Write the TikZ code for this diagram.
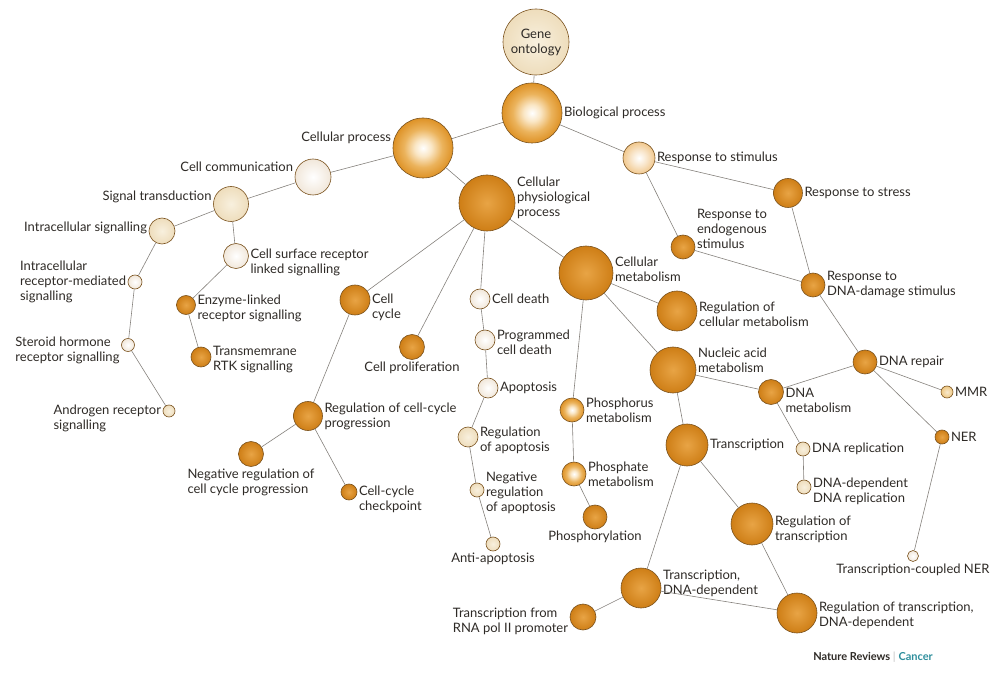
\documentclass[tikz,border=0pt]{standalone}
\usepackage{fontspec}
\setmainfont{Lato}
\definecolor{rim}{HTML}{7A521E}
\definecolor{txt}{HTML}{2E2A26}
\definecolor{wire}{HTML}{85817C}
\definecolor{orgin}{HTML}{E8A445}
\definecolor{orgout}{HTML}{CE7E16}
\definecolor{hotmid}{HTML}{F4C980}
\definecolor{hotout}{HTML}{DE9226}
\definecolor{palein}{HTML}{FFFFFF}
\definecolor{paleout}{HTML}{F1E7DA}
\definecolor{beigein}{HTML}{F8F0DE}
\definecolor{beigeout}{HTML}{EEDDBC}
\definecolor{stimout}{HTML}{F1C88E}
\definecolor{lorg}{HTML}{EEC883}
\definecolor{cancer}{HTML}{2E8E9C}
\pgfdeclareradialshading{hotball}{\pgfpoint{0bp}{0bp}}{color(0bp)=(white); color(7bp)=(hotmid!45!white); color(16bp)=(hotmid!60!hotout); color(25bp)=(hotout); color(50bp)=(hotout)}
\pgfdeclareradialshading{stimball}{\pgfpoint{0bp}{0bp}}{color(0bp)=(white); color(12bp)=(stimout!45); color(25bp)=(stimout); color(50bp)=(stimout)}

\begin{document}
\begin{tikzpicture}[x=1pt,y=-1pt,
  term/.style={circle, draw=rim, line width=0.6pt, inner sep=0pt, minimum size=#1},
  org/.style={inner color=orgin, outer color=orgout},
  hot/.style={shading=hotball},
  stim/.style={shading=stimball},
  pale/.style={inner color=palein, outer color=paleout},
  beige/.style={inner color=beigein, outer color=beigeout},
  lite/.style={inner color=lorg!40, outer color=lorg},
  lbl/.style={text=txt, align=left, inner sep=1.5pt, font=\fontsize{13}{15}\selectfont},
  link/.style={draw=wire, line width=0.6pt}]
  \useasboundingbox (0,0) rectangle (994,679);

  \node[term=66pt, beige, lbl, align=center] (go) at (536,42) {Gene\\ontology};
  \node[term=60pt, hot, label={[lbl]right:Biological process}] (bio) at (532,113) {};
  \node[term=60pt, hot, label={[lbl, yshift=10pt]left:Cellular process}] (cel) at (423,148) {};
  \node[term=36pt, pale, label={[lbl, yshift=10pt]left:Cell communication}] (com) at (313,177) {};
  \node[term=35pt, beige, label={[lbl, yshift=7pt]left:Signal transduction}] (sig) at (231,204) {};
  \node[term=26pt, beige, label={[lbl, yshift=3pt]left:Intracellular signalling}] (ics) at (162,231) {};
  \node[term=14pt, pale, label={[lbl]left:Intracellular\\receptor-mediated\\signalling}] (irm) at (135,282) {};
  \node[term=13pt, pale, label={[lbl, yshift=-5pt]left:Steroid hormone\\receptor signalling}] (ste) at (128,345) {};
  \node[term=12pt, beige, label={[lbl, yshift=-7pt]left:Androgen receptor\\signalling}] (and) at (169,411) {};
  \node[term=25pt, pale, label={[lbl, yshift=-6pt]right:Cell surface receptor\\linked signalling}] (csr) at (236,256) {};
  \node[term=19pt, org, label={[lbl, yshift=-3pt]right:Enzyme-linked\\receptor signalling}] (enz) at (186,305) {};
  \node[term=20pt, org, label={[lbl, yshift=-3pt]right:Transmemrane\\RTK signalling}] (rtk) at (201,357) {};

  \node[term=56pt, org, label={[lbl, yshift=5pt]right:Cellular\\physiological\\process}] (phy) at (487,203) {};
  \node[term=30pt, org, label={[lbl, yshift=-7pt]right:Cell\\cycle}] (cyc) at (355,300) {};
  \node[term=25pt, org, label={[lbl]below:Cell proliferation}] (pro) at (412,347) {};
  \node[term=29pt, org, label={[lbl]right:Regulation of cell-cycle\\progression}] (rcc) at (308,416) {};
  \node[term=25pt, org, label={[lbl]below:Negative regulation of\\cell cycle progression}] (ncc) at (251,454) {};
  \node[term=16pt, org, label={[lbl, yshift=-7pt]right:Cell-cycle\\checkpoint}] (chk) at (349,492) {};
  \node[term=20pt, pale, label={[lbl]right:Cell death}] (dth) at (480,299) {};
  \node[term=20pt, pale, label={[lbl, yshift=-2pt]right:Programmed\\cell death}] (pcd) at (485,340) {};
  \node[term=20pt, pale, label={[lbl]right:Apoptosis}] (apo) at (488,388) {};
  \node[term=20pt, beige, label={[lbl, yshift=-3pt]right:Regulation\\of apoptosis}] (rap) at (468,437) {};
  \node[term=14pt, beige, label={[lbl, yshift=-3pt]right:Negative\\regulation\\of apoptosis}] (nap) at (477,490) {};
  \node[term=14pt, beige, label={[lbl]below:Anti-apoptosis}] (ant) at (493,544) {};

  \node[term=54pt, org, label={[lbl, yshift=4pt]right:Cellular\\metabolism}] (met) at (586,273) {};
  \node[term=40pt, org, label={[lbl, yshift=-3pt]right:Regulation of\\cellular metabolism}] (rme) at (677,311) {};
  \node[term=46pt, org, label={[lbl, yshift=10pt]right:Nucleic acid\\metabolism}] (nuc) at (673,370) {};
  \node[term=24pt, hot, label={[lbl]right:Phosphorus\\metabolism}] (phr) at (572,410) {};
  \node[term=24pt, hot, label={[lbl]right:Phosphate\\metabolism}] (pha) at (574,474) {};
  \node[term=24pt, org, label={[lbl]below:Phosphorylation}] (pyl) at (595,517) {};
  \node[term=42pt, org, label={[lbl]right:Transcription}] (trn) at (687,445) {};
  \node[term=42pt, org, label={[lbl, yshift=-5pt]right:Regulation of\\transcription}] (rtr) at (752,524) {};
  \node[term=40pt, org, label={[lbl, yshift=5pt]right:Transcription,\\DNA-dependent}] (tdd) at (641,588) {};
  \node[term=26pt, org, label={[lbl, yshift=-4pt]left:Transcription from\\RNA pol II promoter}] (pol) at (583,617) {};
  \node[term=40pt, org, label={[lbl, yshift=-2pt]right:Regulation of transcription,\\DNA-dependent}] (rtd) at (797,613) {};
  \node[term=25pt, org, label={[lbl, yshift=-8pt]right:DNA\\metabolism}] (dnm) at (771,392) {};
  \node[term=14pt, beige, label={[lbl]right:DNA replication}] (drp) at (803,449) {};
  \node[term=14pt, beige, label={[lbl, yshift=-4pt]right:DNA-dependent\\DNA replication}] (ddr) at (804,487) {};
  \node[term=24pt, org, label={[lbl]right:DNA repair}] (rep) at (865,362) {};
  \node[term=12pt, lite, label={[lbl]right:MMR}] (mmr) at (947,392) {};
  \node[term=14pt, org, label={[lbl]right:NER}] (ner) at (942,437) {};
  \node[term=11pt, pale, label={[lbl]below:Transcription-coupled NER}] (tcn) at (913,556) {};

  \node[term=32pt, stim, label={[lbl]right:Response to stimulus}] (stm) at (639,158) {};
  \node[term=29pt, org, label={[lbl]right:Response to stress}] (str) at (788,193) {};
  \node[term=24pt, org, label={[lbl, yshift=18pt]right:Response to\\endogenous\\stimulus}] (end) at (683,247) {};
  \node[term=24pt, org, label={[lbl]right:Response to\\DNA-damage stimulus}] (dmg) at (813,285) {};

  \node[font=\fontsize{11}{13}\selectfont\bfseries, text=txt] (nr) at (873,657)
    {Nature Reviews {\color{gray!35}|} {\color{cancer}Cancer}};

  \path[link] (go) edge (bio);
  \path[link] (bio) edge (cel) edge (stm);
  \path[link] (cel) edge (com) edge (phy);
  \path[link] (com) edge (sig);
  \path[link] (sig) edge (ics) edge (csr);
  \path[link] (ics) edge (irm);
  \path[link] (irm) edge (ste);
  \path[link] (ste) edge (and);
  \path[link] (csr) edge (enz);
  \path[link] (enz) edge (rtk);
  \path[link] (phy) edge (cyc) edge (pro) edge (dth) edge (met);
  \path[link] (cyc) edge (rcc);
  \path[link] (rcc) edge (ncc) edge (chk);
  \path[link] (dth) edge (pcd);
  \path[link] (pcd) edge (apo);
  \path[link] (apo) edge (rap);
  \path[link] (rap) edge (nap);
  \path[link] (nap) edge (ant);
  \path[link] (met) edge (rme) edge (nuc) edge (phr);
  \path[link] (phr) edge (pha);
  \path[link] (pha) edge (pyl);
  \path[link] (nuc) edge (trn) edge (dnm);
  \path[link] (trn) edge (rtr) edge (tdd);
  \path[link] (rtr) edge (rtd);
  \path[link] (tdd) edge (rtd) edge (pol);
  \path[link] (dnm) edge (drp) edge (rep);
  \path[link] (drp) edge (ddr);
  \path[link] (rep) edge (mmr) edge (ner);
  \path[link] (ner) edge (tcn);
  \path[link] (stm) edge (str) edge (end);
  \path[link] (end) edge (dmg);
  \path[link] (str) edge (dmg);
  \path[link] (dmg) edge (rep);
\end{tikzpicture}
\end{document}
